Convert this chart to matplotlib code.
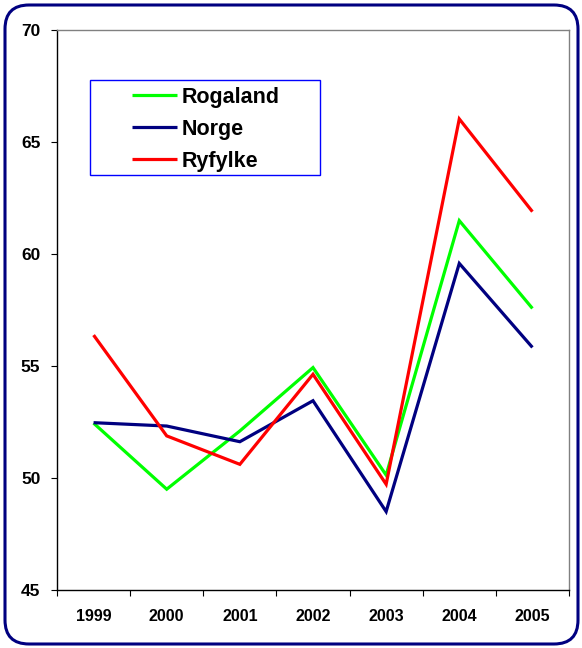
import matplotlib
matplotlib.use("Agg")
import matplotlib.pyplot as plt
from matplotlib.patches import FancyBboxPatch, Rectangle

plt.rcParams['font.family'] = ['Liberation Sans', 'DejaVu Sans']

# Data
years = ["1999", "2000", "2001", "2002", "2003", "2004", "2005"]
rogaland = [52.45, 49.5, 52.1, 54.93, 50.13, 61.49, 57.57]
norge = [52.47, 52.32, 51.62, 53.45, 48.5, 59.58, 55.83]
ryfylke = [56.38, 51.88, 50.61, 54.63, 49.72, 66.03, 61.89]

series = [("Rogaland", rogaland, "#00FF00"),
          ("Norge", norge, "#000080"),
          ("Ryfylke", ryfylke, "#FF0000")]

fig = plt.figure(figsize=(5.82, 6.48), dpi=100)
ax = fig.add_axes([57 / 582, 58 / 648, 512 / 582, 560 / 648])

x = range(len(years))
for name, vals, col in series:
    ax.plot(x, vals, color=col, linewidth=2.3, label=name,
            solid_joinstyle="miter", solid_capstyle="butt")

ax.set_xlim(-0.5, len(years) - 0.5)
ax.set_ylim(45, 70)
ax.set_yticks(range(45, 71, 5))
ax.set_xticks(list(x))
ax.set_xticklabels(years, fontsize=11.5, fontweight="bold")
ax.set_xticks([i - 0.5 for i in range(len(years) + 1)], minor=True)
ax.tick_params(axis="x", which="major", length=0, pad=14)
ax.tick_params(axis="x", which="minor", length=4, width=0.8, direction="out")
ax.tick_params(axis="y", length=4, width=0.8, direction="out", pad=8,
               labelsize=12.5)
for lbl in ax.get_yticklabels():
    lbl.set_fontweight("bold")

for side in ["top", "right"]:
    ax.spines[side].set_color("#808080")
    ax.spines[side].set_linewidth(1.0)
for side in ["left", "bottom"]:
    ax.spines[side].set_color("black")
    ax.spines[side].set_linewidth(1.0)

# legend box drawn separately, entries placed inside it
ax.add_patch(Rectangle((33 / 512, 415 / 560), 230 / 512, 95 / 560,
                       transform=ax.transAxes, facecolor="white",
                       edgecolor="#0000FF", linewidth=1.0, zorder=4))
leg = ax.legend(loc="upper left", bbox_to_anchor=(75 / 512, 503 / 560),
                borderaxespad=0, frameon=False,
                prop={"weight": "bold", "size": 15.5}, handlelength=2.1,
                handletextpad=0.2, labelspacing=0.5, borderpad=0)
leg.set_zorder(5)

border = FancyBboxPatch((5, 4), 573, 639, boxstyle="round,pad=0,rounding_size=24",
                        transform=None, facecolor="none", edgecolor="#000080",
                        linewidth=2.2)
fig.patches.append(border)

fig.savefig("out.png", dpi=100)
